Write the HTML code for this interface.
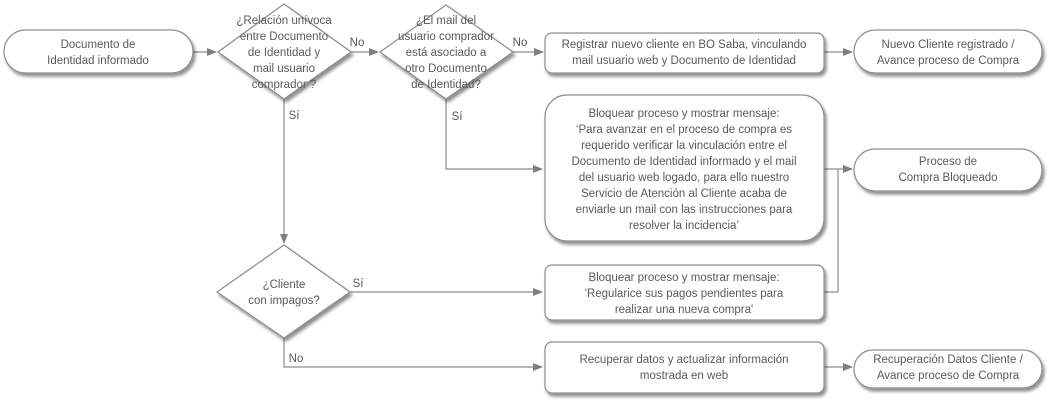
<!DOCTYPE html>
<html><head><meta charset="utf-8"><style>
html,body{margin:0;padding:0;background:#fff;width:1054px;height:405px;overflow:hidden}
svg text{font-family:"Liberation Sans",sans-serif;font-size:11.5px;fill:#595959;text-anchor:middle}
</style></head><body>
<svg width="1054" height="405" viewBox="0 0 1054 405" xmlns="http://www.w3.org/2000/svg">
<defs>
<filter id="sh" x="-10%" y="-10%" width="125%" height="130%">
<feGaussianBlur in="SourceAlpha" stdDeviation="1.5"/>
<feOffset dx="2" dy="3"/>
<feComponentTransfer><feFuncA type="linear" slope="0.45"/></feComponentTransfer>
<feMerge><feMergeNode/><feMergeNode in="SourceGraphic"/></feMerge>
</filter>
<marker id="ar" markerWidth="10" markerHeight="8" refX="9" refY="4" orient="auto" markerUnits="userSpaceOnUse">
<path d="M0,0 L10,4 L0,8 z" fill="#7f7f7f"/>
</marker>
</defs>
<g stroke="#8c8c8c" stroke-width="1.2" fill="none">
<line x1="193" y1="52" x2="216" y2="52" marker-end="url(#ar)"/>
<line x1="351" y1="52" x2="378" y2="52" marker-end="url(#ar)"/>
<line x1="513" y1="52" x2="543" y2="52" marker-end="url(#ar)"/>
<line x1="824" y1="52" x2="852" y2="52" marker-end="url(#ar)"/>
<polyline points="446,99 446,169 542,169" marker-end="url(#ar)"/>
<polyline points="824,169 852,169" marker-end="url(#ar)"/>
<polyline points="824,292 838,292 838,169"/>
<line x1="284" y1="99" x2="284" y2="243" marker-end="url(#ar)"/>
<line x1="350" y1="292" x2="542" y2="292" marker-end="url(#ar)"/>
<polyline points="284,338 284,367 542,367" marker-end="url(#ar)"/>
<line x1="824" y1="367" x2="852" y2="367" marker-end="url(#ar)"/>
</g>
<g fill="#fff" stroke="#8c8c8c" stroke-width="1.2" filter="url(#sh)">
<rect x="4" y="30" width="189" height="43" rx="21.5"/>
<polygon points="284,4 351,52 284,99 218,52"/>
<polygon points="446,5 513,52 446,99 380,52"/>
<rect x="545" y="33" width="279" height="40" rx="7"/>
<rect x="854" y="30" width="188" height="43" rx="21.5"/>
<rect x="545" y="95" width="279" height="146" rx="22"/>
<rect x="854" y="149" width="188" height="42" rx="21"/>
<polygon points="284,245 350,292 284,338 217,292"/>
<rect x="545" y="265" width="279" height="55" rx="7"/>
<rect x="545" y="342" width="279" height="51" rx="7"/>
<rect x="854" y="350" width="188" height="38" rx="19"/>
</g>
<text x="98" y="48">Documento de</text>
<text x="98" y="64">Identidad informado</text>
<text x="284" y="24">¿Relación unívoca</text>
<text x="284" y="40">entre Documento</text>
<text x="284" y="56">de Identidad y</text>
<text x="284" y="72">mail usuario</text>
<text x="284" y="88">comprador ?</text>
<text x="446" y="24">¿El  mail del</text>
<text x="446" y="40">usuario comprador</text>
<text x="446" y="56">está asociado a</text>
<text x="446" y="72">otro Documento</text>
<text x="446" y="88">de Identidad?</text>
<text x="357" y="46">No</text>
<text x="520" y="46">No</text>
<text x="294" y="119">Sí</text>
<text x="457" y="120">Sí</text>
<text x="684" y="48">Registrar nuevo cliente en BO Saba,  vinculando</text>
<text x="684" y="64">mail usuario web y Documento de Identidad</text>
<text x="948" y="48">Nuevo Cliente registrado /</text>
<text x="948" y="64">Avance proceso de Compra</text>
<text x="684" y="117">Bloquear proceso y mostrar mensaje:</text>
<text x="684" y="133">‘Para avanzar en el proceso de compra es</text>
<text x="684" y="149">requerido verificar la vinculación entre el</text>
<text x="684" y="165">Documento de Identidad informado y el mail</text>
<text x="684" y="181">del usuario web logado, para ello nuestro</text>
<text x="684" y="197">Servicio de Atención al Cliente acaba de</text>
<text x="684" y="213">enviarle un mail con las instrucciones para</text>
<text x="684" y="229">resolver la incidencia’</text>
<text x="948" y="165">Proceso de</text>
<text x="948" y="181">Compra Bloqueado</text>
<text x="284" y="288">¿Cliente</text>
<text x="284" y="304">con impagos?</text>
<text x="358" y="287">Sí</text>
<text x="296" y="362">No</text>
<text x="684" y="281">Bloquear proceso y mostrar  mensaje:</text>
<text x="684" y="297">'Regularice sus pagos pendientes para</text>
<text x="684" y="313">realizar una nueva compra'</text>
<text x="684" y="363">Recuperar datos y actualizar  información</text>
<text x="684" y="379">mostrada  en web</text>
<text x="948" y="363">Recuperación Datos Cliente /</text>
<text x="948" y="379">Avance proceso de Compra</text>
</svg>
</body></html>
